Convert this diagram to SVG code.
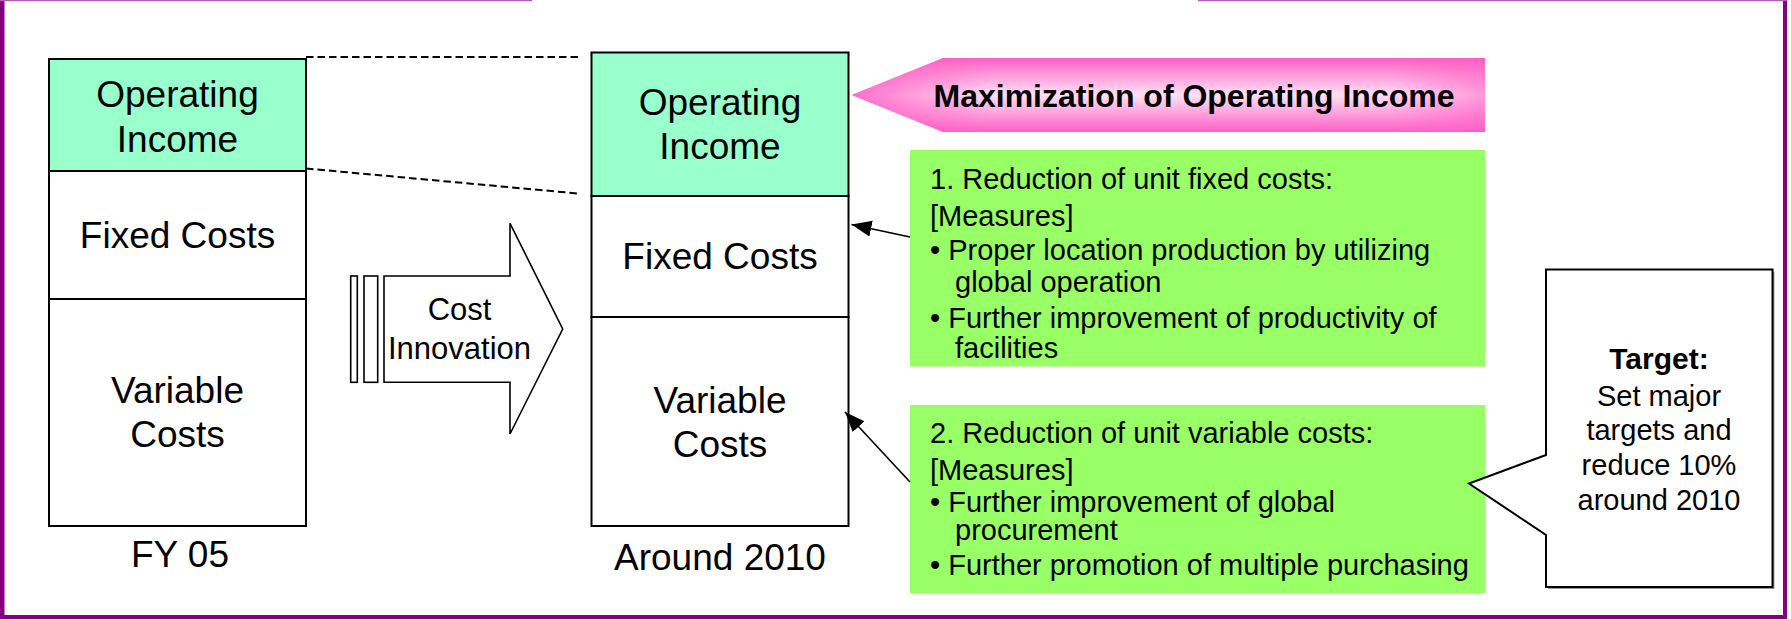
<svg xmlns="http://www.w3.org/2000/svg" width="1791" height="619" viewBox="0 0 1791 619">
  <style>
    text { font-family: "Liberation Sans", Arial, sans-serif; fill: #000; }
    .box { stroke: #000; stroke-width: 2; }
    .oi { fill: #99ffcc; }
    .cost { fill: #ffffff; }
    .lbl { font-size: 37px; text-anchor: middle; }
    .era { font-size: 37px; text-anchor: middle; }
    .measure { fill: #99ff66; }
    .mtxt { font-size: 29px; }
    .dash { stroke: #000; stroke-width: 2; stroke-dasharray: 7.5 4; fill: none; }
    .conn { stroke: #000; stroke-width: 1.6; fill: none; marker-end: url(#head); }
    .frame { stroke: #800080; fill: none; }
  </style>
  <defs>
    <marker id="head" markerUnits="userSpaceOnUse" markerWidth="24" markerHeight="20" refX="20" refY="8" orient="auto">
      <path d="M0,0 L20,8 L0,16 Z" fill="#000"/>
    </marker>
    <linearGradient id="pinkV" x1="0" y1="0" x2="0" y2="1">
      <stop offset="0" stop-color="#ff5fc6"/>
      <stop offset="0.5" stop-color="#fff0f9"/>
      <stop offset="1" stop-color="#ff5fc6"/>
    </linearGradient>
    <linearGradient id="pinkH" x1="0" y1="0" x2="1" y2="0">
      <stop offset="0" stop-color="#ff5fc6" stop-opacity="0.9"/>
      <stop offset="0.22" stop-color="#ff5fc6" stop-opacity="0.1"/>
      <stop offset="0.85" stop-color="#ff5fc6" stop-opacity="0.1"/>
      <stop offset="1" stop-color="#ff5fc6" stop-opacity="0.6"/>
    </linearGradient>
  </defs>

  <rect x="0" y="0" width="1791" height="619" fill="#ffffff"/>

  <!-- page frame -->
  <g id="frame">
    <line class="frame" x1="2.25" y1="0" x2="2.25" y2="619" stroke-width="4.5"/>
    <line class="frame" x1="1785" y1="0" x2="1785" y2="619" stroke-width="4"/>
    <line class="frame" x1="0" y1="617" x2="1787" y2="617" stroke-width="4"/>
    <line x1="0" y1="0.5" x2="532" y2="0.5" stroke="#b45ab4" stroke-width="1.5"/>
    <line x1="1198" y1="0.5" x2="1787" y2="0.5" stroke="#b45ab4" stroke-width="1.5"/>
  </g>

  <!-- FY 05 cost structure -->
  <g id="fy05-operating-income">
    <rect class="box oi" x="49" y="59" width="257" height="112"/>
    <text class="lbl" x="177.5" y="107">Operating</text>
    <text class="lbl" x="177.5" y="152">Income</text>
  </g>
  <g id="fy05-fixed-costs">
    <rect class="box cost" x="49" y="171" width="257" height="128"/>
    <text class="lbl" x="177.5" y="248">Fixed Costs</text>
  </g>
  <g id="fy05-variable-costs">
    <rect class="box cost" x="49" y="299" width="257" height="227"/>
    <text class="lbl" x="177.5" y="403">Variable</text>
    <text class="lbl" x="177.5" y="447">Costs</text>
  </g>
  <g id="fy05-label">
    <text class="era" x="180" y="567">FY 05</text>
  </g>

  <!-- Cost Innovation block arrow -->
  <g id="cost-innovation" stroke="#000" stroke-width="1.6" fill="#ffffff">
    <rect x="350.7" y="276" width="6.6" height="106.3"/>
    <rect x="364" y="276" width="13.7" height="106.3"/>
    <path d="M384,276 L510,276 L510,223.3 L562.7,329 L510,434 L510,382.3 L384,382.3 Z"/>
    <text x="459.5" y="320" font-size="31" text-anchor="middle" stroke="none" fill="#000">Cost</text>
    <text x="459.5" y="359" font-size="31" text-anchor="middle" stroke="none" fill="#000">Innovation</text>
  </g>

  <!-- Around 2010 cost structure -->
  <g id="y2010-operating-income">
    <rect class="box oi" x="591.5" y="52.5" width="257" height="143.5"/>
    <text class="lbl" x="720" y="115">Operating</text>
    <text class="lbl" x="720" y="159">Income</text>
  </g>
  <g id="y2010-fixed-costs">
    <rect class="box cost" x="591.5" y="196" width="257" height="121"/>
    <text class="lbl" x="720" y="269">Fixed Costs</text>
  </g>
  <g id="y2010-variable-costs">
    <rect class="box cost" x="591.5" y="317" width="257" height="209"/>
    <text class="lbl" x="720" y="413">Variable</text>
    <text class="lbl" x="720" y="457">Costs</text>
  </g>
  <g id="y2010-label">
    <text class="era" x="720" y="570">Around 2010</text>
  </g>

  <!-- goal banner -->
  <g id="maximization-banner">
    <polygon points="851.5,95 943,58 1485,58 1485,132 943,132" fill="url(#pinkV)"/>
    <polygon points="851.5,95 943,58 1485,58 1485,132 943,132" fill="url(#pinkH)"/>
    <text x="1194" y="106.5" font-size="32" font-weight="bold" text-anchor="middle">Maximization of Operating Income</text>
  </g>

  <!-- measures for fixed costs -->
  <g id="fixed-cost-measures">
    <rect class="measure" x="910" y="150" width="575" height="216.5"/>
    <text class="mtxt" x="930" y="189">1. Reduction of unit fixed costs:</text>
    <text class="mtxt" x="930" y="226">[Measures]</text>
    <text class="mtxt" x="930" y="260">• Proper location production by utilizing</text>
    <text class="mtxt" x="955" y="292">global operation</text>
    <text class="mtxt" x="930" y="328">• Further improvement of productivity of</text>
    <text class="mtxt" x="955" y="358">facilities</text>
  </g>

  <!-- measures for variable costs -->
  <g id="variable-cost-measures">
    <rect class="measure" x="910" y="405" width="575" height="188.5"/>
    <text class="mtxt" x="930" y="443">2. Reduction of unit variable costs:</text>
    <text class="mtxt" x="930" y="480">[Measures]</text>
    <text class="mtxt" x="930" y="511.5">• Further improvement of global</text>
    <text class="mtxt" x="955" y="540">procurement</text>
    <text class="mtxt" x="930" y="575">• Further promotion of multiple purchasing</text>
  </g>

  <!-- target callout -->
  <g id="target-callout">
    <path d="M1548,271.5 L1774.5,271.5 L1774.5,589 L1548,589 Z" fill="#9a9a9a"/>
    <path d="M1546,269.5 L1772.5,269.5 L1772.5,587 L1546,587 L1546,535 L1469,483.5 L1546,455 Z" fill="#ffffff" stroke="#000" stroke-width="2"/>
    <text x="1659" y="369" font-size="30" font-weight="bold" text-anchor="middle">Target:</text>
    <text x="1659" y="405.5" font-size="29" text-anchor="middle">Set major</text>
    <text x="1659" y="440" font-size="29" text-anchor="middle">targets and</text>
    <text x="1659" y="475" font-size="29" text-anchor="middle">reduce 10%</text>
    <text x="1659" y="510" font-size="29" text-anchor="middle">around 2010</text>
  </g>

  <!-- connectors -->
  <g id="connectors">
    <line class="dash" x1="306" y1="57" x2="578" y2="57"/>
    <line class="dash" x1="306" y1="168.5" x2="578" y2="193.5"/>
    <line class="conn" x1="910" y1="237" x2="851.5" y2="224.5"/>
    <line class="conn" x1="910" y1="482" x2="845" y2="412"/>
  </g>
</svg>
